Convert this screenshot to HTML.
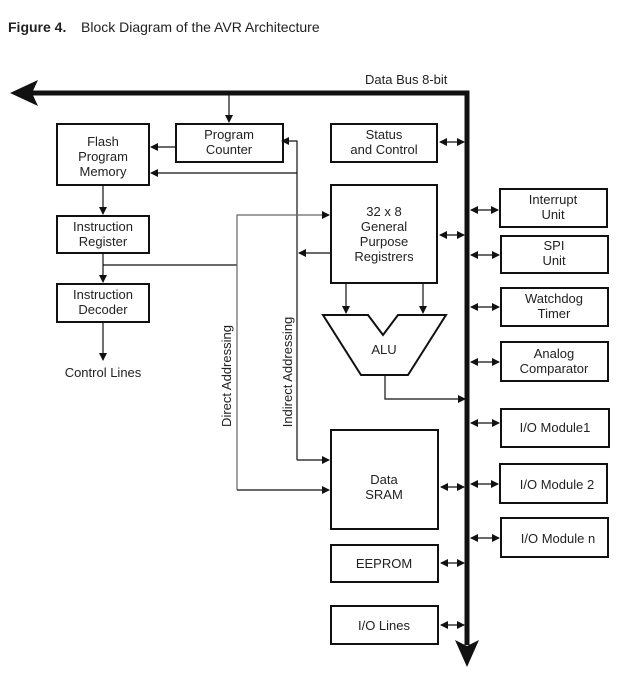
<!DOCTYPE html>
<html><head><meta charset="utf-8"><style>
body{margin:0;background:#fff;}
svg text{font-family:"Liberation Sans",Arial,sans-serif;font-size:13px;fill:#222;}
</style></head><body>
<svg width="626" height="674" viewBox="0 0 626 674" xmlns="http://www.w3.org/2000/svg">
<defs>
<marker id="a" markerWidth="8" markerHeight="8" refX="7" refY="4" orient="auto" markerUnits="userSpaceOnUse">
<path d="M0,0 L8,4 L0,8 Z" fill="#111"/></marker>
<marker id="s" markerWidth="8" markerHeight="8" refX="1" refY="4" orient="auto" markerUnits="userSpaceOnUse">
<path d="M8,0 L0,4 L8,8 Z" fill="#111"/></marker>
</defs>
<text x="8" y="32" style="font-size:14px;font-weight:bold">Figure 4.</text>
<text x="81" y="32" style="font-size:14px">Block Diagram of the AVR Architecture</text>
<text x="365" y="84" style="font-size:13px">Data Bus 8-bit</text>
<!-- bus -->
<path d="M30,93 H467 V645" fill="none" stroke="#111" stroke-width="5"/>
<path d="M10,93 L38,80 L32,93 L38,106 Z" fill="#111"/>
<path d="M467,667 L455,640 L467,646 L479,640 Z" fill="#111"/>
<g fill="none" stroke="#111" stroke-width="2">
<rect x="57" y="124" width="92" height="61"/>
<rect x="176" y="124" width="107" height="38"/>
<rect x="57" y="216" width="92" height="37"/>
<rect x="57" y="284" width="92" height="38"/>
<rect x="331" y="124" width="106" height="38"/>
<rect x="331" y="185" width="106" height="98"/>
<rect x="331" y="430" width="107" height="99"/>
<rect x="331" y="545" width="107" height="37"/>
<rect x="331" y="606" width="107" height="38"/>
<rect x="500" y="189" width="107" height="38"/>
<rect x="501" y="236" width="107" height="37"/>
<rect x="501" y="288" width="107" height="38"/>
<rect x="501" y="342" width="107" height="39"/>
<rect x="501" y="409" width="108" height="38"/>
<rect x="500" y="464" width="107" height="39"/>
<rect x="501" y="518" width="107" height="39"/>
<path d="M323,315 H368 L383,335 L398,315 H446 L408,375 H361 Z"/>
</g>
<g fill="none" stroke="#111" stroke-width="1.2">
<path d="M229,95 V122" marker-end="url(#a)"/>
<path d="M176,147 H151" marker-end="url(#a)"/>
<path d="M297,173 H151" marker-end="url(#a)"/>
<path d="M297,460 V141 H282" marker-end="url(#a)"/>
<path d="M297,460 H329" marker-end="url(#a)"/>
<path d="M331,253 H299" marker-end="url(#a)"/>
<path d="M103,185 V214" marker-end="url(#a)"/>
<path d="M103,253 V282" marker-end="url(#a)"/>
<path d="M103,265 H237"/>
<path d="M103,322 V360" marker-end="url(#a)"/>
<path d="M237,490 V215 H329" stroke="#666" marker-end="url(#a)"/>
<path d="M237,490 H329" marker-end="url(#a)"/>
<path d="M346,283 V313" marker-end="url(#a)"/>
<path d="M423,283 V313" marker-end="url(#a)"/>
<path d="M385,375 V399 H465" marker-end="url(#a)"/>
<path d="M440,142 H464" marker-start="url(#s)" marker-end="url(#a)"/>
<path d="M440,235 H464" marker-start="url(#s)" marker-end="url(#a)"/>
<path d="M441,487 H464" marker-start="url(#s)" marker-end="url(#a)"/>
<path d="M441,563 H464" marker-start="url(#s)" marker-end="url(#a)"/>
<path d="M441,625 H464" marker-start="url(#s)" marker-end="url(#a)"/>
<path d="M471,210 H498" marker-start="url(#s)" marker-end="url(#a)"/>
<path d="M471,255 H499" marker-start="url(#s)" marker-end="url(#a)"/>
<path d="M471,307 H499" marker-start="url(#s)" marker-end="url(#a)"/>
<path d="M471,362 H499" marker-start="url(#s)" marker-end="url(#a)"/>
<path d="M471,423 H499" marker-start="url(#s)" marker-end="url(#a)"/>
<path d="M471,484 H498" marker-start="url(#s)" marker-end="url(#a)"/>
<path d="M471,538 H499" marker-start="url(#s)" marker-end="url(#a)"/>
</g>
<g text-anchor="middle">
<text x="103" y="146">Flash</text><text x="103" y="161">Program</text><text x="103" y="176">Memory</text>
<text x="229" y="139">Program</text><text x="229" y="154">Counter</text>
<text x="103" y="231">Instruction</text><text x="103" y="246">Register</text>
<text x="103" y="299">Instruction</text><text x="103" y="314">Decoder</text>
<text x="103" y="377">Control Lines</text>
<text x="384" y="139">Status</text><text x="384" y="154">and Control</text>
<text x="384" y="216">32 x 8</text><text x="384" y="231">General</text><text x="384" y="246">Purpose</text><text x="384" y="261">Registrers</text>
<text x="384" y="354">ALU</text>
<text x="384" y="484">Data</text><text x="384" y="499">SRAM</text>
<text x="384" y="568">EEPROM</text>
<text x="384" y="630">I/O Lines</text>
<text x="553" y="204">Interrupt</text><text x="553" y="219">Unit</text>
<text x="554" y="250">SPI</text><text x="554" y="265">Unit</text>
<text x="554" y="303">Watchdog</text><text x="554" y="318">Timer</text>
<text x="554" y="358">Analog</text><text x="554" y="373">Comparator</text>
<text x="555" y="432">I/O Module1</text>
<text x="557" y="489">I/O Module 2</text>
<text x="558" y="543">I/O Module n</text>
<text transform="translate(231,376) rotate(-90)">Direct Addressing</text>
<text transform="translate(292,372) rotate(-90)">Indirect Addressing</text>
</g>
</svg>
</body></html>
